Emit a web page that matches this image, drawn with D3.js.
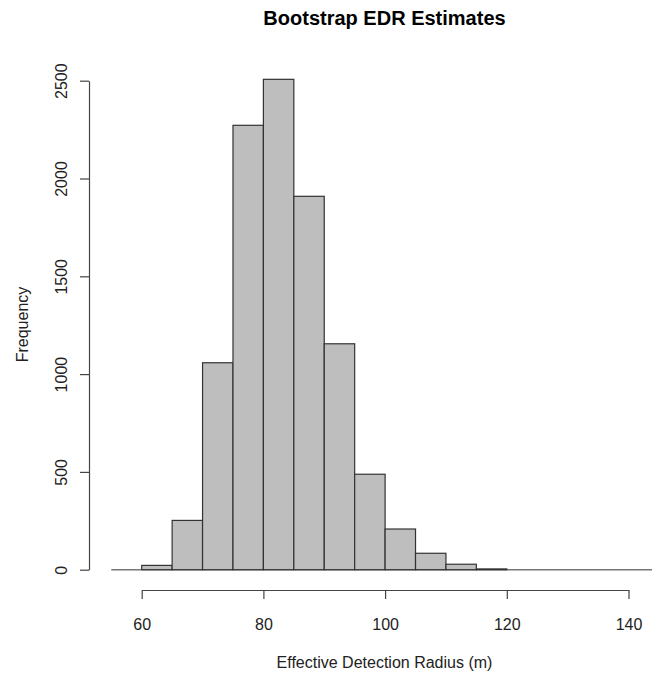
<!DOCTYPE html>
<html>
<head>
<meta charset="utf-8">
<script src="https://cdn.jsdelivr.net/npm/d3@7"></script>
<style>
  body { margin: 0; background: #fff; }
  svg text { font-family: "Liberation Sans", Arial, sans-serif; }
</style>
</head>
<body>
<div id="chart"></div>
<script>
// histogram bins (5 m wide) and counts
const binStarts = [60, 65, 70, 75, 80, 85, 90, 95, 100, 105, 110, 115];
const binWidth = 5;
const counts = [22, 252, 1058, 2272, 2507, 1909, 1155, 488, 208, 84, 28, 4];
const xTicks = [60, 80, 100, 120, 140];
const yTicks = [0, 500, 1000, 1500, 2000, 2500];

const width = 652, height = 677;

const svg = d3.select("#chart")
  .append("svg")
  .attr("width", width)
  .attr("height", height);

// scales, pixel ranges matched to the reference plot region
const x = d3.scaleLinear().domain([60, 140]).range([141.7, 628.5]);
const y = d3.scaleLinear().domain([0, 2500]).range([569.7, 80.7]);

const bins = binStarts.map((s, i) => ({ x0: s, x1: s + binWidth, n: counts[i] }));

// zero line across the plot
svg.append("line")
  .attr("x1", x(55))
  .attr("x2", x(145))
  .attr("y1", y(0))
  .attr("y2", y(0))
  .attr("stroke", "#777")
  .attr("stroke-width", 1.5);

// bars
svg.append("g")
  .selectAll("rect")
  .data(bins)
  .join("rect")
  .attr("x", d => x(d.x0))
  .attr("y", d => y(d.n))
  .attr("width", d => x(d.x1) - x(d.x0))
  .attr("height", d => y(0) - y(d.n))
  .attr("fill", "#bebebe")
  .attr("stroke", "#333")
  .attr("stroke-width", 1.2);

// x axis
const xAxis = svg.append("g")
  .attr("transform", "translate(0,590)")
  .call(d3.axisBottom(x).tickValues(xTicks).tickFormat(d3.format("d")).tickSize(9).tickSizeOuter(0));

xAxis.select(".domain").attr("stroke", "#444").attr("stroke-width", 1.2);
xAxis.selectAll(".tick line").attr("stroke", "#444").attr("stroke-width", 1.2);
xAxis.selectAll(".tick text")
  .attr("y", 39.5)
  .attr("dy", null)
  .attr("fill", "#222")
  .style("font-size", "16px");

// y axis, labels rotated like R's default
const yAxis = svg.append("g")
  .attr("transform", "translate(89,0)")
  .call(d3.axisLeft(y).tickValues(yTicks).tickFormat(d3.format("d")).tickSize(9).tickSizeOuter(0));

yAxis.select(".domain").attr("stroke", "#444").attr("stroke-width", 1.2);
yAxis.selectAll(".tick line").attr("stroke", "#444").attr("stroke-width", 1.2);
yAxis.selectAll(".tick text")
  .attr("x", null)
  .attr("dy", null)
  .attr("text-anchor", "middle")
  .attr("transform", "translate(-22,0) rotate(-90)")
  .attr("fill", "#222")
  .style("font-size", "16px");

// titles
svg.append("text")
  .attr("x", 384.5)
  .attr("y", 25)
  .attr("text-anchor", "middle")
  .style("font-size", "20px")
  .style("font-weight", "bold")
  .attr("fill", "#000")
  .text("Bootstrap EDR Estimates");

svg.append("text")
  .attr("x", 384.5)
  .attr("y", 668)
  .attr("text-anchor", "middle")
  .style("font-size", "16px")
  .attr("fill", "#222")
  .text("Effective Detection Radius (m)");

svg.append("text")
  .attr("transform", "translate(28,324.5) rotate(-90)")
  .attr("text-anchor", "middle")
  .style("font-size", "16px")
  .attr("fill", "#222")
  .text("Frequency");
</script>
</body>
</html>
